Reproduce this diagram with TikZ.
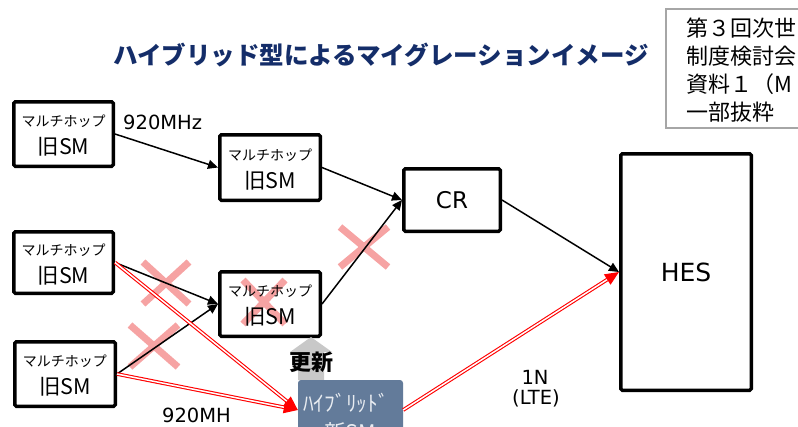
\documentclass[tikz,border=0pt]{standalone}
\usepackage{fontspec}
\setmainfont{Noto Sans CJK JP}
\newfontfamily\lat{DejaVu Sans}
\usetikzlibrary{arrows.meta}
\definecolor{navy}{HTML}{142D69}
\definecolor{xpink}{HTML}{F6A3A3}
\definecolor{hybfill}{HTML}{637B9A}
\definecolor{hybtxt}{HTML}{E8ECF1}
\definecolor{notegray}{HTML}{A6A6A6}
\definecolor{upgray}{HTML}{C8C8C8}
\begin{document}
\begin{tikzpicture}[x=1pt,y=-1pt,
  box/.style={draw, line width=3.5pt, rounded corners=1.5pt, inner sep=0pt},
  smbox/.style={box,
    label={[yshift=12.5pt, font=\fontsize{14}{15}\selectfont]center:マルチホップ},
    label={[yshift=-13pt, font=\fontsize{21.5}{23}\selectfont]center:旧SM}},
  arr/.style={line width=1.5pt, -{Triangle[length=10pt,width=9pt]}},
  redarr/.style={draw=red, line width=1.1pt, double=white, double distance=1.5pt,
    -{Triangle[length=14pt,width=12pt,fill=red]}},
  xmark/.style={draw=xpink, line width=7pt},
  lbl/.style={font=\lat\fontsize{19.5}{22}\selectfont, inner sep=0pt},
  notetxt/.style={anchor=base west, font=\fontsize{22}{24}\selectfont, inner sep=0pt}
]
\useasboundingbox (0,0) rectangle (798,426);
\clip (0,0) rectangle (798,426);

% crosses (underneath)
\draw[xmark] (143,262) -- (189,304) (189,262) -- (143,304);
\draw[xmark] (130,325) -- (178,367) (178,325) -- (130,367);
\draw[xmark] (340,227) -- (388,267) (388,227) -- (340,267);
\draw[xmark] (243,280) -- (285,324) (285,280) -- (243,324);

% title
\node[font=\bfseries\fontsize{24.5}{26}\selectfont, text=navy, inner sep=0pt] (title) at (381,55)
  {ハイブリッド型によるマイグレーションイメージ};

% note box
\draw[notegray, line width=1.3pt] (666,9) rectangle (812,128);
\node[notetxt] (n1) at (686,36) {第３回次世};
\node[notetxt] (n2) at (686,64) {制度検討会};
\node[notetxt] (n3) at (686,92) {資料１（M};
\node[notetxt] (n4) at (686,120) {一部抜粋};

% boxes
\node[smbox, minimum width=99.5pt, minimum height=64.5pt] (a1) at (63.5,134) {};
\node[smbox, minimum width=100.5pt, minimum height=65.5pt] (b1) at (270,167.5) {};
\node[smbox, minimum width=99.5pt, minimum height=61.5pt] (a2) at (63.5,262.5) {};
\node[smbox, minimum width=100.5pt, minimum height=64.5pt] (b2) at (270,304) {};
\node[smbox, minimum width=100.5pt, minimum height=64.5pt] (a3) at (65,374) {};
\node[box, minimum width=96.5pt, minimum height=62.5pt, font=\lat\fontsize{23}{25}\selectfont] (cr) at (452,200) {CR};
\node[box, minimum width=130.5pt, minimum height=236.5pt, font=\lat\fontsize{25}{27}\selectfont] (hes) at (686,272) {HES};

% update arrow and hybrid node
\fill[upgray] (298,380) -- (298,352) -- (290,352) -- (311,337) -- (332,352) -- (324,352) -- (324,380) -- cycle;
\node[font=\bfseries\fontsize{22}{24}\selectfont, inner sep=0pt] (upd) at (311,362) {更新};
\node[fill=hybfill, rounded corners=3pt, minimum width=105pt, minimum height=60pt, inner sep=0pt] (hyb) at (350.5,410) {};
\node[text=hybtxt, font=\fontsize{21.5}{23}\selectfont, inner sep=0pt] (hybt1) at (346,403) {ﾊｲﾌﾞﾘｯﾄﾞ};
\node[text=hybtxt, font=\fontsize{21.5}{23}\selectfont, inner sep=0pt] (hybt2) at (350,432) {新SM};

% black connectors
\draw[arr] (a1.east) -- (b1.west);
\draw[arr] (b1.east) -- (cr.west);
\draw[arr] (b2.east) -- (cr.west);
\draw[arr] (cr.east) -- (hes.west);
\draw[arr] (a2.east) -- (b2.west);
\draw[arr] (a3.east) -- (b2.west);

% red connectors
\draw[redarr] (a2.east) -- (hyb.west);
\draw[redarr] (a3.east) -- (hyb.west);
\draw[redarr] (hyb.east) -- (hes.west);

% labels
\node[lbl, anchor=west] (f1) at (123,122) {920MHz};
\node[lbl] (f2) at (196.5,415) {920MH};
\node[lbl] (lte1) at (535,377) {1N};
\node[lbl] (lte2) at (536,398) {(LTE)};
\end{tikzpicture}
\end{document}
